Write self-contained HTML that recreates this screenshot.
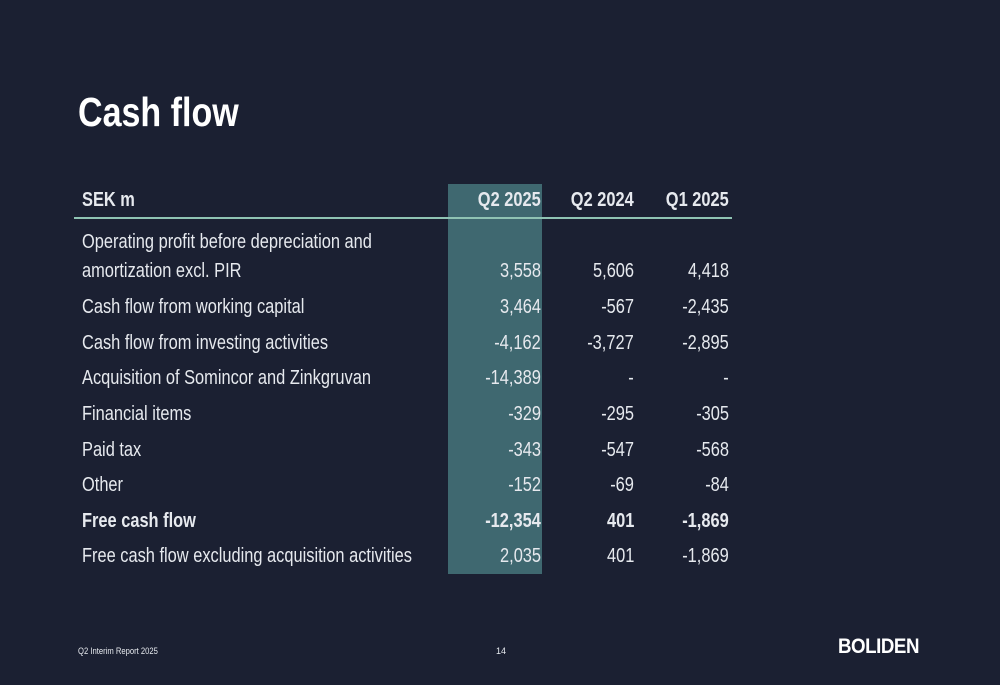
<!DOCTYPE html>
<html><head><meta charset="utf-8"><style>
body{margin:0;width:1000px;height:685px;background:#1b2032;position:relative;overflow:hidden;font-family:"Liberation Sans",sans-serif;color:#e6e9ee}
.t{position:absolute;white-space:nowrap;font-size:20px;line-height:24px}
.l{transform:scaleX(0.82);transform-origin:left center}
.r{transform:scaleX(0.82);transform-origin:right center;text-align:right}
.b{font-weight:bold}
</style></head><body>
<div>
<div class="t b" style="left:78px;top:88px;font-size:41px;line-height:48px;color:#fff;transform:scaleX(0.83);transform-origin:left center">Cash flow</div>
<div style="position:absolute;left:448px;top:184px;width:94px;height:390px;background:#3f6870"></div>
<div style="position:absolute;left:74px;top:217px;width:658px;height:2px;background:#8fc3b3"></div>
<div id="tbl"></div>
<div class="t" style="left:78px;top:645px;font-size:9px;line-height:12px;transform:scaleX(0.85);transform-origin:left center">Q2 Interim Report 2025</div>
<div class="t" style="left:496px;top:645px;font-size:9px;line-height:12px">14</div>
<div class="t b" style="left:838px;top:635px;font-size:21px;line-height:24px;color:#fff;letter-spacing:-0.5px;transform:scaleX(0.89);transform-origin:left center">BOLIDEN</div>
</div>
<script>
const headers=["Q2 2025","Q2 2024","Q1 2025"];
const labels=["amortization excl. PIR","Cash flow from working capital","Cash flow from investing activities","Acquisition of Somincor and Zinkgruvan","Financial items","Paid tax","Other","Free cash flow","Free cash flow excluding acquisition activities"];
const q22025=["3,558","3,464","-4,162","-14,389","-329","-343","-152","-12,354","2,035"];
const q22024=["5,606","-567","-3,727","-","-295","-547","-69","401","401"];
const q12025=["4,418","-2,435","-2,895","-","-305","-568","-84","-1,869","-1,869"];
const tbl=document.getElementById('tbl');
const rights=[541,634,729];
function add(text,cls,x,y,right){
  const d=document.createElement('div');
  d.className='t '+cls;
  d.textContent=text;
  if(right){d.style.right=(1000-x)+'px';}else{d.style.left=x+'px';}
  d.style.top=(y-12)+'px';
  tbl.appendChild(d);
  return d;
}
let h=add("SEK m","l b",82,200,false);


headers.forEach((t,i)=>{
  const e=add(t,"r b",rights[i],200,true);
  
  
});
let f=add("Operating profit before depreciation and","l",82,242,false);


const rowY=[271,307,343,378,414,450,485,521,556];
labels.forEach((t,i)=>{
  const bold=i===7?' b':'';
  const e=add(t,"l"+bold,82,rowY[i],false);
  
  
  [q22025,q22024,q12025].forEach((arr,j)=>{
    const c=add(arr[i],"r"+bold,rights[j],rowY[i],true);
    
    
  });
});
</script>
</body></html>
